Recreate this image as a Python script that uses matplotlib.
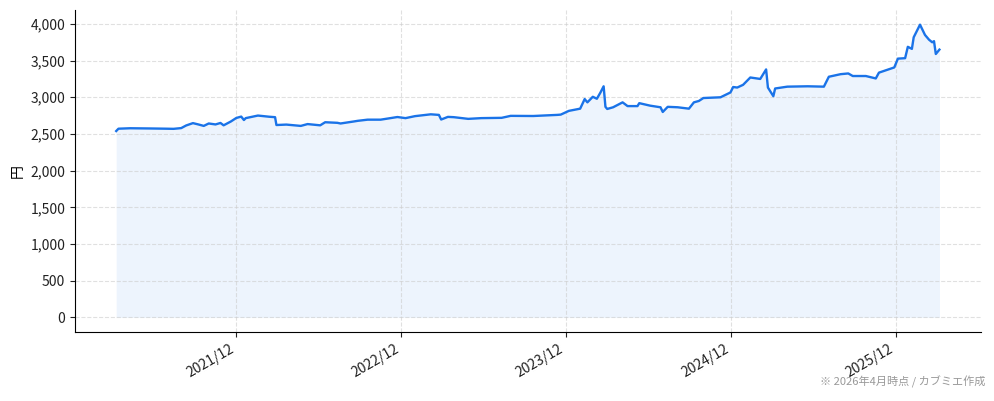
import matplotlib
matplotlib.use('Agg')
import matplotlib.pyplot as plt
import matplotlib.dates as mdates
import matplotlib.ticker as ticker
import pandas as pd

plt.rcParams['font.family'] = ['Noto Sans CJK JP', 'DejaVu Sans']

# 基準価額 (円) — 画像から読み取り
dates = [
    '2021-03-10', '2021-03-15', '2021-04-10', '2021-05-25', '2021-06-28', '2021-07-15',
    '2021-08-01', '2021-08-12', '2021-08-27', '2021-09-08', '2021-09-20', '2021-10-01',
    '2021-10-16', '2021-10-27', '2021-11-03', '2021-11-19', '2021-12-01', '2021-12-12',
    '2021-12-18', '2021-12-22', '2022-01-18', '2022-02-12', '2022-02-25', '2022-02-28',
    '2022-03-22', '2022-04-23', '2022-05-08', '2022-06-05', '2022-06-16', '2022-07-13',
    '2022-07-20', '2022-08-18', '2022-08-27', '2022-09-18', '2022-10-17', '2022-11-23',
    '2022-12-11', '2023-01-01', '2023-02-05', '2023-02-23', '2023-02-28', '2023-03-15',
    '2023-03-28', '2023-04-29', '2023-05-28', '2023-07-12', '2023-08-01', '2023-09-20',
    '2023-11-12', '2023-11-20', '2023-12-08', '2024-01-02', '2024-01-12', '2024-01-18',
    '2024-01-30', '2024-02-08', '2024-02-16', '2024-02-23', '2024-02-27', '2024-03-02',
    '2024-03-15', '2024-04-05', '2024-04-16', '2024-05-08', '2024-05-12', '2024-06-05',
    '2024-06-28', '2024-07-03', '2024-07-14', '2024-08-05', '2024-08-30', '2024-09-10',
    '2024-09-21', '2024-10-01', '2024-11-08', '2024-11-30', '2024-12-06', '2024-12-15',
    '2024-12-28', '2025-01-13', '2025-02-04', '2025-02-17', '2025-02-21', '2025-03-05',
    '2025-03-09', '2025-04-05', '2025-05-20', '2025-06-25', '2025-07-06', '2025-08-01',
    '2025-08-18', '2025-08-28', '2025-09-26', '2025-10-18', '2025-10-25', '2025-11-28',
    '2025-12-06', '2025-12-22', '2025-12-28', '2026-01-06', '2026-01-10', '2026-01-24',
    '2026-02-04', '2026-02-13', '2026-02-20', '2026-02-24', '2026-02-28', '2026-03-08',
]
prices = [
    2540, 2572, 2578, 2575, 2572, 2570,
    2580, 2616, 2648, 2630, 2610, 2643,
    2630, 2650, 2618, 2670, 2718, 2737,
    2690, 2716, 2751, 2735, 2729, 2622,
    2628, 2610, 2635, 2618, 2660, 2652,
    2643, 2670, 2679, 2695, 2695, 2731,
    2716, 2743, 2768, 2760, 2697, 2733,
    2729, 2706, 2716, 2720, 2747, 2745,
    2760, 2764, 2815, 2845, 2976, 2931,
    3007, 2980, 3066, 3150, 2870, 2841,
    2864, 2931, 2880, 2880, 2920, 2886,
    2864, 2800, 2870, 2864, 2845, 2931,
    2950, 2990, 3000, 3066, 3140, 3133,
    3170, 3270, 3250, 3380, 3133, 3015,
    3120, 3145, 3150, 3145, 3280, 3315,
    3325, 3290, 3290, 3257, 3336, 3407,
    3527, 3533, 3688, 3660, 3818, 3990,
    3850, 3785, 3750, 3765, 3590, 3650,
]

x = pd.to_datetime(dates)
line_color = '#1a73e8'

fig = plt.figure(figsize=(9.94, 4.01), dpi=100)
ax = fig.add_axes([0.0755, 0.172, 0.911, 0.803])

ax.plot(x, prices, color=line_color, linewidth=1.7)
ax.fill_between(x, prices, 0, color=line_color, alpha=0.08, linewidth=0)

ax.xaxis.set_major_locator(mdates.MonthLocator(bymonth=12))
ax.xaxis.set_major_formatter(mdates.DateFormatter('%Y/%m'))
ax.yaxis.set_major_locator(ticker.MultipleLocator(500))
ax.yaxis.set_major_formatter(ticker.FuncFormatter(lambda v, p: f'{int(v):,}'))

ax.grid(True, linestyle='--', color='#cccccc', alpha=0.6, linewidth=0.8)
ax.spines['top'].set_visible(False)
ax.spines['right'].set_visible(False)
ax.tick_params(labelsize=10, colors='#222222')
for lbl in ax.get_xticklabels():
    lbl.set_rotation(30)
    lbl.set_ha('right')

ax.set_ylabel('円', fontsize=10)
fig.text(0.991, 0.032, '※ 2026年4月時点 / カブミエ作成', ha='right', va='bottom',
         fontsize=8, color='#999999')

fig.savefig('out.png', dpi=100)
